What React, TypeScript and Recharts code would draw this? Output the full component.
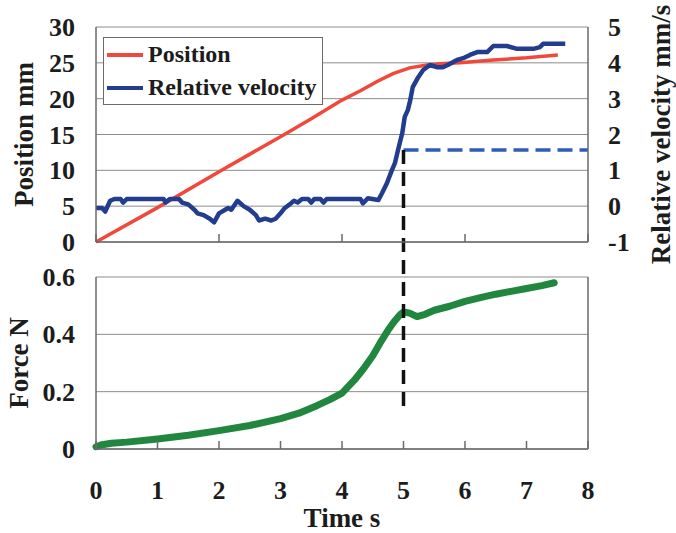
import { ComposedChart, Line, XAxis, YAxis, CartesianGrid, ReferenceLine, Legend, Label } from 'recharts'

const FONT = '"Liberation Serif", "Times New Roman", serif'
const INK = '#1c1c1c'
const FRAME = '#6a6a6a'
const GRID = '#8c8c8c'
const RED = '#f0493b'
const NAVY = '#223d8e'
const DASH_BLUE = '#2f5cb8'
const GREEN = '#21873f'

// position (mm) vs time (s)
const POS_T = [0, 1, 2, 3, 3.5, 4, 4.3, 4.57, 4.83, 5.1, 5.38, 5.65, 5.92, 6.46, 7.0, 7.51]
const POS_MM = [0, 4.8, 9.8, 14.7, 17.2, 19.8, 21.1, 22.4, 23.5, 24.3, 24.7, 24.9, 25.0, 25.4, 25.7, 26.1]

// relative velocity (mm/s) vs time (s)
const VEL_T = [
  0, 0.1, 0.15, 0.23, 0.3, 0.4, 0.44, 0.5, 0.8, 1.1,
  1.13, 1.2, 1.35, 1.4, 1.5, 1.6, 1.65, 1.75, 1.85, 1.92,
  2.0, 2.1, 2.15, 2.2, 2.3, 2.4, 2.5, 2.6, 2.65, 2.75,
  2.85, 2.92, 3.0, 3.07, 3.15, 3.22, 3.28, 3.35, 3.45, 3.5,
  3.55, 3.65, 3.7, 3.75, 4.3, 4.34, 4.42, 4.59, 4.65, 4.73,
  4.81, 4.86, 4.91, 4.98, 5.02, 5.07, 5.11, 5.15, 5.24, 5.32,
  5.43, 5.54, 5.64, 5.72, 5.87, 5.97, 6.08, 6.2, 6.36, 6.46,
  6.68, 6.85, 7.11, 7.22, 7.27, 7.63,
]
const VEL_MMS = [
  -0.05, -0.05, -0.15, 0.15, 0.2, 0.2, 0.1, 0.2, 0.2, 0.2,
  0.1, 0.2, 0.2, 0.1, 0.05, -0.1, -0.2, -0.25, -0.35, -0.45,
  -0.2, -0.1, -0.05, -0.1, 0.15, 0.0, -0.1, -0.25, -0.4, -0.35,
  -0.4, -0.35, -0.2, -0.05, 0.05, 0.15, 0.1, 0.2, 0.2, 0.1,
  0.2, 0.2, 0.1, 0.2, 0.2, 0.08, 0.22, 0.17, 0.36, 0.64,
  1.0, 1.2, 1.56, 2.04, 2.49, 2.68, 2.96, 3.32, 3.6, 3.8,
  3.94, 3.88, 3.88, 3.94, 4.08, 4.13, 4.22, 4.3, 4.3, 4.47,
  4.47, 4.39, 4.39, 4.44, 4.53, 4.53,
]

// force (N) vs time (s)
const FORCE_T = [0, 0.1, 0.25, 0.5, 1, 1.5, 2, 2.5, 3, 3.3, 3.6, 3.8, 4, 4.2, 4.35, 4.5, 4.62, 4.75, 4.85, 4.95, 5.0, 5.1, 5.22, 5.35, 5.5, 5.75, 6.0, 6.25, 6.5, 6.75, 7.0, 7.25, 7.45]
const FORCE_N = [0.008, 0.015, 0.02, 0.024, 0.035, 0.048, 0.064, 0.082, 0.106, 0.125, 0.152, 0.172, 0.195, 0.24, 0.28, 0.325, 0.37, 0.415, 0.445, 0.47, 0.478, 0.474, 0.462, 0.47, 0.484, 0.498, 0.515, 0.528, 0.54, 0.55, 0.56, 0.57, 0.58]

const TIME_TICKS = [0, 1, 2, 3, 4, 5, 6, 7, 8]
const TOP_TIME_TICKS = [0, 2, 4, 6, 8]
const POS_TICKS = [0, 5, 10, 15, 20, 25, 30]
const VEL_TICKS = [-1, 0, 1, 2, 3, 4, 5]
const FORCE_TICKS = [0, 0.2, 0.4, 0.6]

// annotation: contact at t = 5 s, velocity threshold, dashed marker reaching into force panel
const EVENT_T = 5
const VEL_THRESHOLD = 1.57
const MARKER_BOTTOM_VEL = -5.77 // in velocity units, lands at ~0.12 N in the lower panel

const LEGEND_ITEMS = [
  { label: 'Position', color: RED },
  { label: 'Relative velocity', color: NAVY },
]

const posData = POS_T.map((t, i) => ({ t, v: POS_MM[i] }))
const velData = VEL_T.map((t, i) => ({ t, v: VEL_MMS[i] }))
const forceData = FORCE_T.map((t, i) => ({ t, v: FORCE_N[i] }))

const fmtForce = (v: number) => (v === 0 ? '0' : v.toFixed(1))

// bold serif tick text; dy shifts alphabetic baseline
const boldTick = (anchor: string, dy: number, fmt?: (v: number) => string) => (props: any) => {
  const { x, y, payload } = props
  return (
    <text x={x} y={y + dy} textAnchor={anchor} fontSize={26} fontWeight="bold" fontFamily={FONT} fill={INK}>
      {fmt ? fmt(payload.value) : payload.value}
    </text>
  )
}

// tick marks only, no text (upper panel)
const noLabel = () => <g />

function LegendBox() {
  return (
    <div style={{
      border: `1.5px solid ${FRAME}`, background: '#fff', padding: '0 5px 0 3px',
      fontFamily: FONT, fontWeight: 'bold', fontSize: 24, color: INK,
    }}>
      {LEGEND_ITEMS.map((it) => (
        <div key={it.label} style={{ display: 'flex', alignItems: 'center', height: 33, whiteSpace: 'nowrap' }}>
          <span style={{ display: 'inline-block', width: 36, height: 4, background: it.color, marginRight: 5 }} />
          {it.label}
        </div>
      ))}
    </div>
  )
}

const vTitle = (text: string, baselineDx: number) => (props: any) => {
  const vb = props.viewBox
  const x = vb.x + baselineDx
  const y = vb.y + vb.height / 2
  return (
    <text x={x} y={y} transform={`rotate(-90 ${x} ${y})`} textAnchor="middle"
      fontSize={27} fontWeight="bold" fontFamily={FONT} fill={INK}>
      {text}
    </text>
  )
}

export default function App() {
  return (
    <div style={{ position: 'absolute', left: 0, top: 0, width: 676, height: 533, background: '#fff' }}>
      {/* lower panel: force */}
      <div style={{ position: 'absolute', left: 0, top: 0 }}>
        <ComposedChart width={676} height={533} margin={{ top: 277, right: 88, bottom: 0, left: 0 }}>
          <CartesianGrid horizontal vertical={false} stroke={GRID} />
          <XAxis type="number" dataKey="t" domain={[0, 8]} ticks={TIME_TICKS} height={84}
            tickSize={-8} tickMargin={58} tick={boldTick('middle', 0)}
            axisLine={{ stroke: FRAME, strokeWidth: 1.5 }} tickLine={{ stroke: FRAME, strokeWidth: 1.5 }}>
            <Label value="Time s" position="insideBottom" offset={6}
              fontSize={27} fontWeight="bold" fontFamily={FONT} fill={INK} />
          </XAxis>
          <YAxis domain={[0, 0.6]} ticks={FORCE_TICKS} width={96} tickLine={false} tickMargin={15}
            tick={boldTick('end', 9, fmtForce)}
            axisLine={{ stroke: FRAME, strokeWidth: 1.5 }}>
            <Label content={vTitle('Force N', 28)} />
          </YAxis>
          <ReferenceLine x={8} stroke={FRAME} strokeWidth={1.5} />
          <Line data={forceData} dataKey="v" stroke={GREEN} strokeWidth={7} dot={false} activeDot={false}
            strokeLinejoin="round" strokeLinecap="round" isAnimationActive={false} />
        </ComposedChart>
      </div>

      {/* upper panel: position + relative velocity */}
      <div style={{ position: 'absolute', left: 0, top: 0 }}>
        <ComposedChart width={676} height={533} margin={{ top: 27, right: 0, bottom: 273, left: 0 }}>
          <CartesianGrid yAxisId="pos" horizontal vertical={false} stroke={GRID} />
          <XAxis type="number" dataKey="t" domain={[0, 8]} ticks={TOP_TIME_TICKS} height={18}
            tick={noLabel} tickSize={-8}
            axisLine={{ stroke: FRAME, strokeWidth: 1.5 }} tickLine={{ stroke: FRAME, strokeWidth: 1.5 }} />
          <YAxis yAxisId="pos" domain={[0, 30]} ticks={POS_TICKS} width={96} tickLine={false} tickMargin={15}
            tick={boldTick('end', 9)} axisLine={{ stroke: FRAME, strokeWidth: 1.5 }}>
            <Label content={vTitle('Position mm', 33)} />
          </YAxis>
          <YAxis yAxisId="vel" orientation="right" domain={[-1, 5]} ticks={VEL_TICKS} width={88} tickLine={false}
            tickMargin={14} tick={boldTick('start', 9)} axisLine={{ stroke: FRAME, strokeWidth: 1.5 }}>
            <Label content={vTitle('Relative velocity mm/s', 82)} />
          </YAxis>
          <Legend content={<LegendBox />} layout="vertical" align="center" verticalAlign="middle"
            wrapperStyle={{ left: 103, top: 37, width: 'auto', height: 'auto' }} />
          <Line yAxisId="pos" data={posData} dataKey="v" name="Position" stroke={RED} strokeWidth={3.5}
            dot={false} activeDot={false} isAnimationActive={false} />
          <Line yAxisId="vel" data={velData} dataKey="v" name="Relative velocity" stroke={NAVY} strokeWidth={4.5}
            dot={false} activeDot={false} strokeLinejoin="round" isAnimationActive={false} />
          <ReferenceLine yAxisId="vel" segment={[{ x: EVENT_T, y: VEL_THRESHOLD }, { x: 8, y: VEL_THRESHOLD }]}
            stroke={DASH_BLUE} strokeWidth={3.5} strokeDasharray="15 7" ifOverflow="visible" />
          <ReferenceLine yAxisId="vel" segment={[{ x: EVENT_T, y: VEL_THRESHOLD }, { x: EVENT_T, y: MARKER_BOTTOM_VEL }]}
            stroke="#111" strokeWidth={3.5} strokeDasharray="14 8" ifOverflow="visible" />
        </ComposedChart>
      </div>
    </div>
  )
}
